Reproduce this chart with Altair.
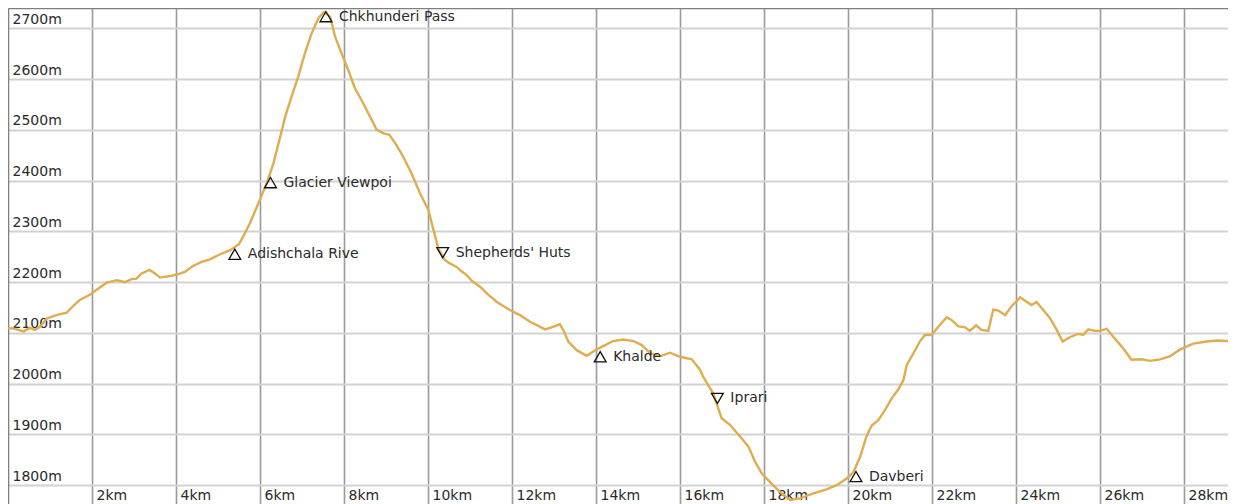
import altair as alt
import pandas as pd

# Elevation profile (distance in km, elevation in m)
dist_km = [0.00, 0.17, 0.37, 0.52, 0.64, 0.76, 0.92, 1.08, 1.24, 1.40, 1.55, 1.71, 1.95, 2.11,
           2.35, 2.59, 2.79, 2.94, 3.06, 3.18, 3.37, 3.50, 3.62, 3.86, 4.02, 4.21, 4.41, 4.61,
           4.81, 5.05, 5.29, 5.36, 5.50, 5.60, 5.76, 5.96, 6.16, 6.32, 6.48, 6.60, 6.75, 6.91,
           7.07, 7.23, 7.39, 7.52, 7.67, 7.79, 7.94, 8.10, 8.26, 8.46, 8.62, 8.78, 8.94, 9.08,
           9.25, 9.41, 9.61, 9.81, 10.01, 10.13, 10.25, 10.40, 10.52, 10.68, 10.76, 10.92, 11.05,
           11.24, 11.44, 11.64, 11.95, 12.19, 12.43, 12.79, 12.94, 13.14, 13.22, 13.34, 13.54,
           13.78, 13.98, 14.17, 14.41, 14.65, 14.89, 15.09, 15.29, 15.52, 15.76, 16.00, 16.28,
           16.48, 16.55, 16.79, 16.99, 17.19, 17.43, 17.63, 17.79, 17.95, 18.18, 18.38, 18.62,
           18.86, 19.17, 19.49, 19.73, 19.97, 20.13, 20.29, 20.44, 20.56, 20.72, 20.88, 21.04,
           21.20, 21.32, 21.40, 21.56, 21.71, 21.83, 21.99, 22.15, 22.35, 22.47, 22.63, 22.79,
           22.90, 23.05, 23.18, 23.34, 23.46, 23.58, 23.74, 23.90, 24.10, 24.26, 24.37, 24.49,
           24.65, 24.81, 24.97, 25.11, 25.29, 25.48, 25.60, 25.72, 25.88, 26.00, 26.16, 26.32,
           26.52, 26.75, 26.99, 27.19, 27.43, 27.67, 27.90, 28.22, 28.54, 28.78, 29.02, 29.30]
elev_m = [2110, 2108, 2103, 2110, 2106, 2112, 2128, 2133, 2137, 2140, 2153, 2165, 2175, 2185,
          2199, 2204, 2200, 2206, 2207, 2217, 2224, 2217, 2209, 2212, 2215, 2220, 2232, 2240,
          2245, 2255, 2263, 2267, 2275, 2290, 2316, 2355, 2395, 2434, 2486, 2526, 2565, 2605,
          2651, 2690, 2720, 2732, 2723, 2683, 2651, 2618, 2582, 2552, 2526, 2500, 2493, 2490,
          2470, 2447, 2414, 2375, 2342, 2303, 2265, 2244, 2237, 2230, 2224, 2214, 2202,
          2191, 2175, 2161, 2145, 2135, 2122, 2107, 2111, 2117, 2106, 2083, 2066,
          2055, 2066, 2074, 2084, 2087, 2084, 2076, 2060, 2054, 2061, 2053, 2048,
          2027, 2014, 1981, 1932, 1919, 1896, 1876, 1846, 1823, 1803, 1787, 1771,
          1774, 1784, 1792, 1800, 1813, 1826, 1856, 1896, 1917, 1928, 1948, 1971,
          1989, 2007, 2037, 2060, 2083, 2096, 2096, 2112, 2131, 2125, 2113, 2111,
          2104, 2115, 2106, 2104, 2146, 2144, 2135, 2153, 2170, 2161, 2155, 2161,
          2145, 2129, 2106, 2083, 2092, 2098, 2096, 2107, 2104, 2104, 2108, 2092,
          2073, 2047, 2048, 2045, 2048, 2054, 2067, 2079, 2083, 2085, 2084, 2081]

# Waypoints
wp_names = ["Adishchala Rive", "Glacier Viewpoi", "Chkhunderi Pass", "Shepherds' Huts",
            "Khalde", "Iprari", "Davberi"]
wp_km = [5.40, 6.25, 7.57, 10.35, 14.10, 16.89, 20.19]
wp_elev = [2255, 2396, 2723, 2258, 2053, 1971, 1817]
wp_dir = ["up", "up", "up", "down", "up", "down", "up"]

x_ticks = [2, 4, 6, 8, 10, 12, 14, 16, 18, 20, 22, 24, 26, 28]
y_ticks = [1800, 1900, 2000, 2100, 2200, 2300, 2400, 2500, 2600, 2700]

profile = pd.DataFrame({"km": dist_km, "elev": elev_m})
wps = pd.DataFrame({"name": wp_names, "km": wp_km, "elev": wp_elev, "dir": wp_dir})

FONT = "DejaVu Sans"
FRAME = "#808080"
x_scale = alt.Scale(domain=[0, 29.048], nice=False, zero=False)
y_scale = alt.Scale(domain=[1763, 2740], nice=False, zero=False)

x_enc = alt.X("km:Q", scale=x_scale, axis=alt.Axis(
    values=x_ticks, labelExpr="datum.value + 'km'", title=None, domain=False, ticks=False,
    tickSize=0, grid=True, gridColor="#9a9a9a", gridWidth=1.6, labelAlign="left",
    labelBaseline="alphabetic", labelPadding=-5, labelOffset=4, labelFont=FONT,
    labelFontSize=14, labelColor="#2a2a2a", orient="bottom"))
y_enc = alt.Y("elev:Q", scale=y_scale, axis=alt.Axis(
    values=y_ticks, labelExpr="datum.value + 'm'", title=None, domain=True,
    domainColor=FRAME, domainWidth=1.6, ticks=False,
    tickSize=0, grid=True, gridColor="#d2d2d2", gridWidth=2, labelAlign="left",
    labelBaseline="alphabetic", labelPadding=-4, labelOffset=-5, labelFont=FONT,
    labelFontSize=14, labelColor="#2a2a2a", orient="left"))

line = alt.Chart(profile).mark_line(color="#dfad50", strokeWidth=2.4).encode(x=x_enc, y=y_enc)

points = alt.Chart(wps).mark_point(filled=False, color="#111111", strokeWidth=1.3, size=140, opacity=1).encode(
    x=alt.X("km:Q", scale=x_scale, axis=alt.Axis(
        orient="top", labels=False, ticks=False, grid=False, title=None,
        domain=True, domainColor=FRAME, domainWidth=1.6)),
    y=alt.Y("elev:Q", scale=y_scale),
    shape=alt.Shape("dir:N", scale=alt.Scale(domain=["up", "down"],
                                              range=["triangle-up", "triangle-down"]), legend=None),
)

labels = alt.Chart(wps).mark_text(align="left", baseline="middle", dx=13, font=FONT,
                                  fontSize=14, color="#2a2a2a").encode(
    x=alt.X("km:Q", scale=x_scale),
    y=alt.Y("elev:Q", scale=y_scale),
    text="name:N",
)

chart = (line + points + labels).properties(
    width=1220, height=496, padding=0, autosize=alt.AutoSizeParams(type="none")
).configure_view(stroke=None).configure(background="white")

chart.save("out.html", embed_options={"renderer": "svg", "actions": False})
